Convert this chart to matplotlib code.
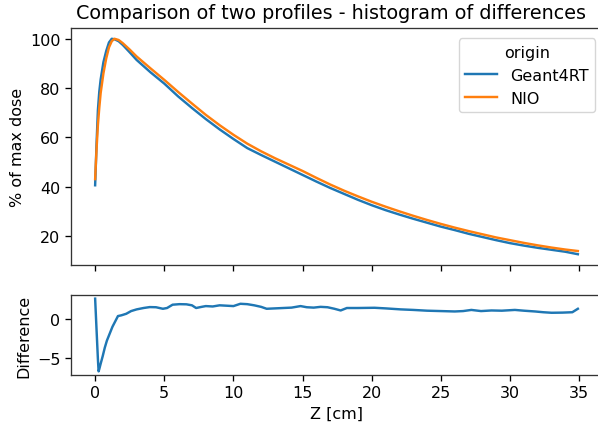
import matplotlib
matplotlib.use("Agg")
import matplotlib.pyplot as plt

# Depth grid for the two dose profiles (cm)
z_profile = [0, 0.1, 0.2, 0.3, 0.4, 0.6, 0.8, 1.0, 1.2, 1.4, 1.7, 2.0, 2.5, 3.0, 4.0,
             5, 6, 7, 8, 9, 10, 11, 12, 13, 14, 15, 16, 17, 18, 19, 20, 21, 22, 23,
             24, 25, 26, 27, 28, 29, 30, 31, 32, 33, 34, 34.9]

nio = [43.0, 55.0, 65.0, 72.0, 78.0, 86.0, 92.0, 96.5, 99.0, 100.0, 99.5, 98.2, 95.6,
       92.8, 88.0, 83.3, 78.4, 73.7, 69.1, 64.9, 61.0, 57.4, 54.3, 51.5, 48.9, 46.3,
       43.5, 40.8, 38.3, 36.0, 33.8, 31.8, 29.9, 28.1, 26.4, 24.8, 23.3, 21.9, 20.6,
       19.3, 18.2, 17.1, 16.1, 15.2, 14.4, 13.8]

geant4rt = [40.5, 57.0, 71.0, 78.5, 83.5, 90.5, 95.0, 98.5, 100.0, 99.8, 99.0, 97.5,
            94.5, 91.4, 86.4, 81.8, 76.6, 71.9, 67.4, 63.2, 59.3, 55.6, 52.8, 50.1,
            47.4, 44.7, 42.0, 39.4, 37.0, 34.6, 32.4, 30.4, 28.6, 26.9, 25.3, 23.7,
            22.3, 20.8, 19.5, 18.2, 17.0, 16.0, 15.1, 14.3, 13.5, 12.5]

# Difference curve
z_diff = [0, 0.1, 0.2, 0.25, 0.3, 0.4, 0.55, 0.7, 0.85, 1.05, 1.25, 1.45, 1.65, 1.9,
          2.25, 2.6, 3.0, 3.5, 3.95, 4.4, 4.9, 5.2, 5.6, 6.1, 6.6, 7.0, 7.3, 7.7, 8.0,
          8.5, 9.0, 9.5, 10.0, 10.5, 11.0, 11.5, 12.0, 12.4, 13.0, 13.6, 14.2, 14.85,
          15.3, 15.8, 16.3, 16.8, 17.3, 17.75, 18.2, 19.0, 20.2, 21.0, 22.1, 23.0,
          24.0, 25.0, 26.0, 26.6, 27.2, 27.9, 28.65, 29.4, 30.35, 31.0, 31.8, 32.4,
          33.0, 33.8, 34.5, 34.9]
diff = [2.67, -1.3, -5.2, -6.8, -6.5, -5.8, -4.8, -3.7, -2.8, -1.9, -1.0, -0.3, 0.4,
        0.5, 0.7, 1.05, 1.27, 1.45, 1.57, 1.55, 1.35, 1.45, 1.88, 1.95, 1.93, 1.8, 1.45,
        1.6, 1.7, 1.65, 1.8, 1.75, 1.7, 2.0, 1.95, 1.8, 1.6, 1.35, 1.4, 1.45, 1.5, 1.7,
        1.55, 1.5, 1.6, 1.55, 1.35, 1.13, 1.45, 1.45, 1.48, 1.4, 1.27, 1.2, 1.1, 1.05,
        1.0, 1.05, 1.2, 1.05, 1.13, 1.1, 1.2, 1.1, 1.0, 0.9, 0.83, 0.85, 0.9, 1.35]

plt.rcParams.update({
    "font.size": 11.5,
    "axes.linewidth": 0.95,
    "xtick.major.size": 4,
    "ytick.major.size": 4,
    "xtick.major.width": 0.95,
    "ytick.major.width": 0.95,
    "axes.edgecolor": "#333333",
})

W, H = 598, 427
fig = plt.figure(figsize=(W / 100, H / 100), dpi=100)

ax1 = fig.add_axes([71 / W, (H - 266) / H, (602 - 71) / W, (266 - 29) / H])
ax2 = fig.add_axes([71 / W, (H - 376) / H, (602 - 71) / W, (376 - 296) / H], sharex=ax1)

ax1.plot(z_profile, geant4rt, color="#1f77b4", lw=1.75, label="Geant4RT")
ax1.plot(z_profile, nio, color="#ff7f0e", lw=1.75, label="NIO")
ax1.set_ylabel("% of max dose")
ax1.set_title("Comparison of two profiles - histogram of differences", fontsize=13.8,
              pad=7, x=0.489)
ax1.tick_params(labelbottom=False)
ax1.legend(title="origin", loc="upper right", fontsize=11.5, title_fontsize=11.5,
           bbox_to_anchor=(1.002, 0.99))

ax2.plot(z_diff, diff, color="#1f77b4", lw=1.75)
ax2.set_ylabel("Difference")
ax2.set_xlabel("Z [cm]")
ax2.set_xticks([0, 5, 10, 15, 20, 25, 30, 35])

fig.savefig("out.png", dpi=100)
